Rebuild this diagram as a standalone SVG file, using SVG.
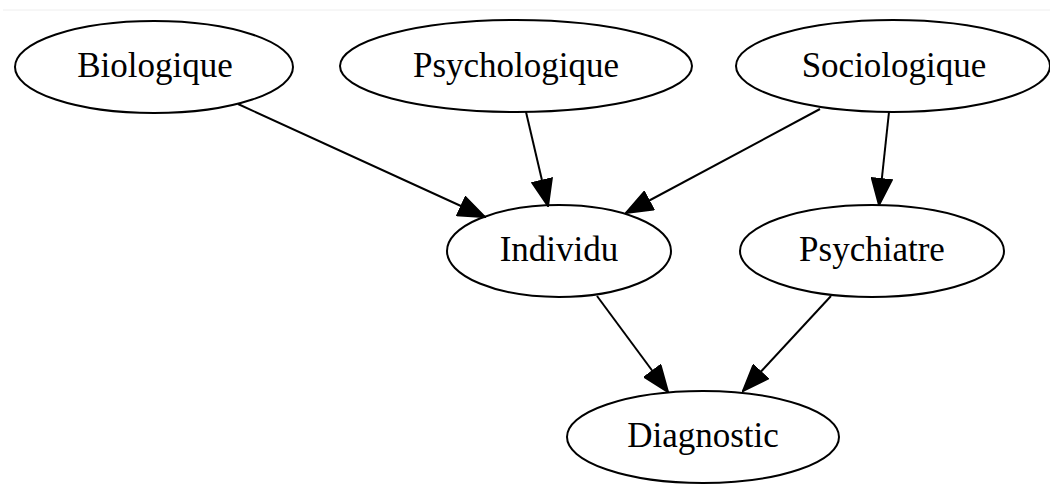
<svg xmlns="http://www.w3.org/2000/svg" width="1050" height="487" viewBox="0 0 1050 487">
<style>
.n ellipse{fill:none;stroke:#000;stroke-width:2}
.n text{font-family:"Liberation Serif","Times New Roman",serif;font-size:35px;text-anchor:middle;fill:#000}
#edges line{stroke:#000;stroke-width:2;marker-end:url(#ah)}
</style>
<defs>
<marker id="ah" markerUnits="userSpaceOnUse" markerWidth="28" markerHeight="22" refX="27" refY="11" orient="auto" viewBox="0 0 28 22">
<path d="M1,1 L27,11 L1,21 Z" fill="#000" stroke="#000" stroke-width="2"/>
</marker>
</defs>
<rect width="1050" height="487" fill="#fff"/>
<line x1="3" y1="10" x2="1050" y2="10" stroke="#eee" stroke-width="1"/>
<g id="edges">
<line x1="238" y1="104" x2="485" y2="217"/>
<line x1="526" y1="112" x2="548" y2="206"/>
<line x1="820" y1="109" x2="626" y2="213"/>
<line x1="889" y1="112" x2="879" y2="205"/>
<line x1="597" y1="296" x2="668" y2="392"/>
<line x1="831" y1="296" x2="743" y2="391"/>
</g>
<g id="biologique" class="n"><ellipse cx="154" cy="67" rx="139" ry="46"/><text x="155" y="77">Biologique</text></g>
<g id="psychologique" class="n"><ellipse cx="516" cy="66" rx="176" ry="46"/><text x="516" y="77">Psychologique</text></g>
<g id="sociologique" class="n"><ellipse cx="893" cy="66" rx="157" ry="46"/><text x="894" y="77">Sociologique</text></g>
<g id="individu" class="n"><ellipse cx="559" cy="251" rx="112" ry="46"/><text x="559" y="261">Individu</text></g>
<g id="psychiatre" class="n"><ellipse cx="872" cy="251" rx="132" ry="46"/><text x="872" y="261">Psychiatre</text></g>
<g id="diagnostic" class="n"><ellipse cx="703" cy="437" rx="136" ry="46"/><text x="703" y="447">Diagnostic</text></g>
</svg>
